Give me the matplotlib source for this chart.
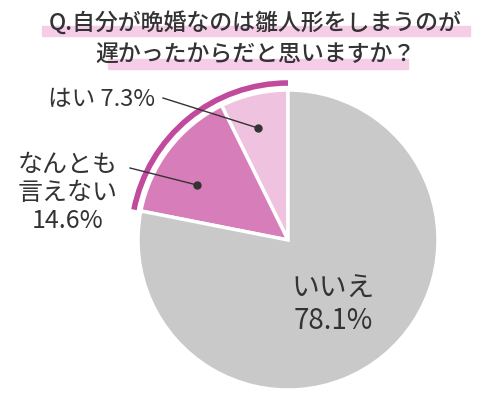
import matplotlib
matplotlib.use("Agg")
import matplotlib.pyplot as plt
from matplotlib.patches import Arc, Rectangle

plt.rcParams['font.family'] = ['Noto Sans CJK JP', 'DejaVu Sans']

labels = ["はい", "なんとも\n言えない", "いいえ"]
values = [7.3, 14.6, 78.1]
colors = ["#efc3df", "#d77db9", "#c9c9c9"]
title1 = "Q.自分が晩婚なのは雛人形をしまうのが"
title2 = "遅かったからだと思いますか？"

fig = plt.figure(figsize=(5, 4.11), dpi=100)
ax = fig.add_axes([0, 0, 1, 1])

H = 411
cx, cy, r = 288, H - 240, 150
ax.pie(values, colors=colors, startangle=90, counterclock=True, center=(cx, cy),
       radius=r, wedgeprops=dict(edgecolor='white', linewidth=2.5), frame=True)
ax.set_xlim(0, 500); ax.set_ylim(0, 411); ax.set_aspect('equal'); ax.axis('off')

pink_frac = (values[0] + values[1]) / 100
ax.add_patch(Arc((cx, cy), 2 * (r + 7), 2 * (r + 7), theta1=90, theta2=90 + pink_frac * 360,
                 color="#c24a9c", lw=4))

# title highlights
ax.add_patch(Rectangle((42, H - 36), 428, 10, color="#f6cde7", zorder=1))
ax.add_patch(Rectangle((108, H - 69), 300, 10, color="#f6cde7", zorder=1))
ax.text(255, H - 23, title1, fontsize=16.5, ha='center', va='center', color='#333333',
        zorder=2, fontweight='medium')
ax.text(255, H - 55, title2, fontsize=16.5, ha='center', va='center', color='#333333',
        zorder=2, fontweight='medium')

tc = '#333333'
ax.text(48, H - 100, f"{labels[0]} {values[0]}%", fontsize=17, ha='left', va='center', color=tc)
ax.plot([163, 258], [H - 98, H - 128], color='#333333', lw=1)
ax.plot([258], [H - 128], 'o', color='#333333', ms=5)

ax.text(68, H - 193, f"{labels[1]}\n{values[1]}%", fontsize=18, ha='center', va='center',
        color=tc, linespacing=1.1)
ax.plot([130, 197], [H - 168, H - 185], color='#333333', lw=1)
ax.plot([197], [H - 185], 'o', color='#333333', ms=5)

ax.text(333, H - 305, f"{labels[2]}\n{values[2]}%", fontsize=20, ha='center', va='center',
        color=tc, linespacing=1.1)

fig.savefig("out.png", dpi=100)
